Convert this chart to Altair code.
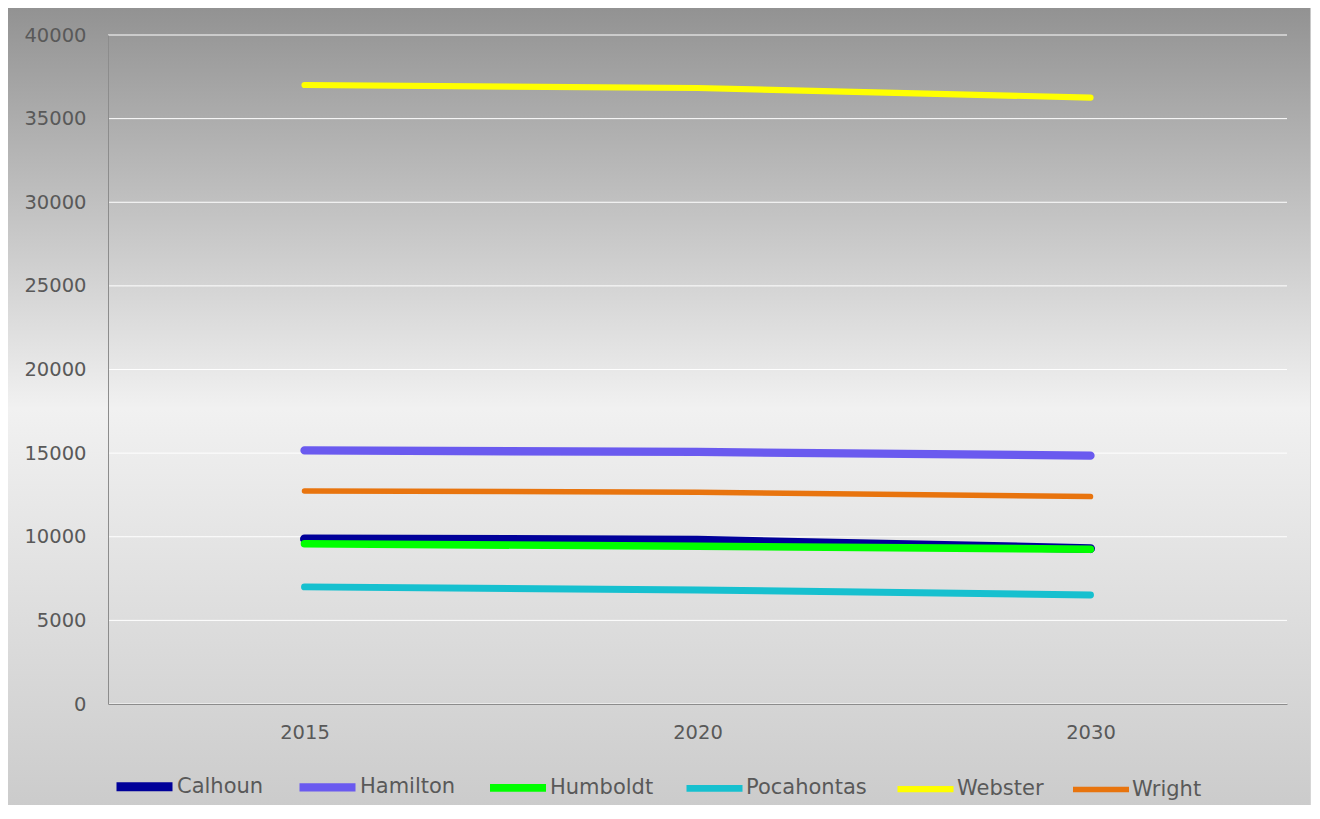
import altair as alt
import pandas as pd

years = ["2015", "2020", "2030"]
counties = ["Calhoun", "Hamilton", "Humboldt", "Pocahontas", "Webster", "Wright"]
calhoun = [9870, 9790, 9290]
hamilton = [15160, 15070, 14850]
humboldt = [9580, 9430, 9255]
pocahontas = [7000, 6820, 6520]
webster = [37010, 36830, 36260]
wright = [12740, 12660, 12400]
colors = ["#000099", "#6a5aef", "#00ff00", "#16c0cf", "#ffff00", "#e8740e"]
widths = [9, 5.5, 5.5, 5.5, 5.5, 5.5]
y_ticks = list(range(0, 40001, 5000))

series = [calhoun, hamilton, humboldt, pocahontas, webster, wright]
rows = []
for name, vals in zip(counties, series):
    for yr, v in zip(years, vals):
        rows.append({"year": yr, "county": name, "value": v})
df = pd.DataFrame(rows)

W, H = 1179, 669
FONT = "DejaVu Sans"

bg = alt.Chart(pd.DataFrame({"a": [0]})).mark_rect(
    color=alt.LinearGradient(
        gradient="linear",
        stops=[
            alt.GradientStop(color="#929292", offset=0),
            alt.GradientStop(color="#f1f1f1", offset=0.5),
            alt.GradientStop(color="#cbcbcb", offset=1),
        ],
        x1=0, x2=0, y1=0, y2=1,
    ),
    stroke="#d9d9d9",
    strokeWidth=1.5,
).encode(
    x=alt.value(-101), x2=alt.value(1203), y=alt.value(-28), y2=alt.value(775)
)

grid = alt.Chart(pd.DataFrame({"v": y_ticks})).mark_rule(
    color="#ffffff", strokeWidth=1
).encode(y=alt.Y("v:Q", scale=alt.Scale(domain=[0, 40000], nice=False)))

lines = alt.Chart(df).mark_line(strokeCap="round", strokeJoin="round").encode(
    x=alt.X("year:O", sort=years, title=None,
            axis=alt.Axis(labelAngle=0, ticks=False, labelPadding=19,
                          domainColor="#8c8c8c", labelFont=FONT, labelFontSize=19.5,
                          labelColor="#595959", zindex=1)),
    y=alt.Y("value:Q", scale=alt.Scale(domain=[0, 40000], nice=False), title=None,
            axis=alt.Axis(values=y_ticks, format="d", grid=False, ticks=False, labelPadding=22,
                          domainColor="#8c8c8c", labelFont=FONT, labelFontSize=19.5,
                          labelColor="#595959", zindex=1)),
    color=alt.Color("county:N", scale=alt.Scale(domain=counties, range=colors),
                    legend=alt.Legend(title=None, orient="none", legendX=4, legendY=719,
                                      direction="horizontal", symbolType="stroke",
                                      symbolSize=3136, symbolStrokeWidth=6,
                                      labelFont=FONT, labelFontSize=21,
                                      labelColor="#595959", labelOffset=0,
                                      columnPadding=18, labelLimit=300, zindex=1)),
    strokeWidth=alt.StrokeWidth("county:N", scale=alt.Scale(domain=counties, range=widths),
                                legend=None),
)

chart = alt.layer(bg, grid, lines).properties(
    width=W, height=H,
    autosize=alt.AutoSizeParams(type="none"),
    padding={"left": 100, "top": 27, "right": 24, "bottom": 101},
).configure_view(stroke=None).configure(background="#ffffff")

chart.save("out.html", embed_options={"renderer": "svg", "actions": False})
